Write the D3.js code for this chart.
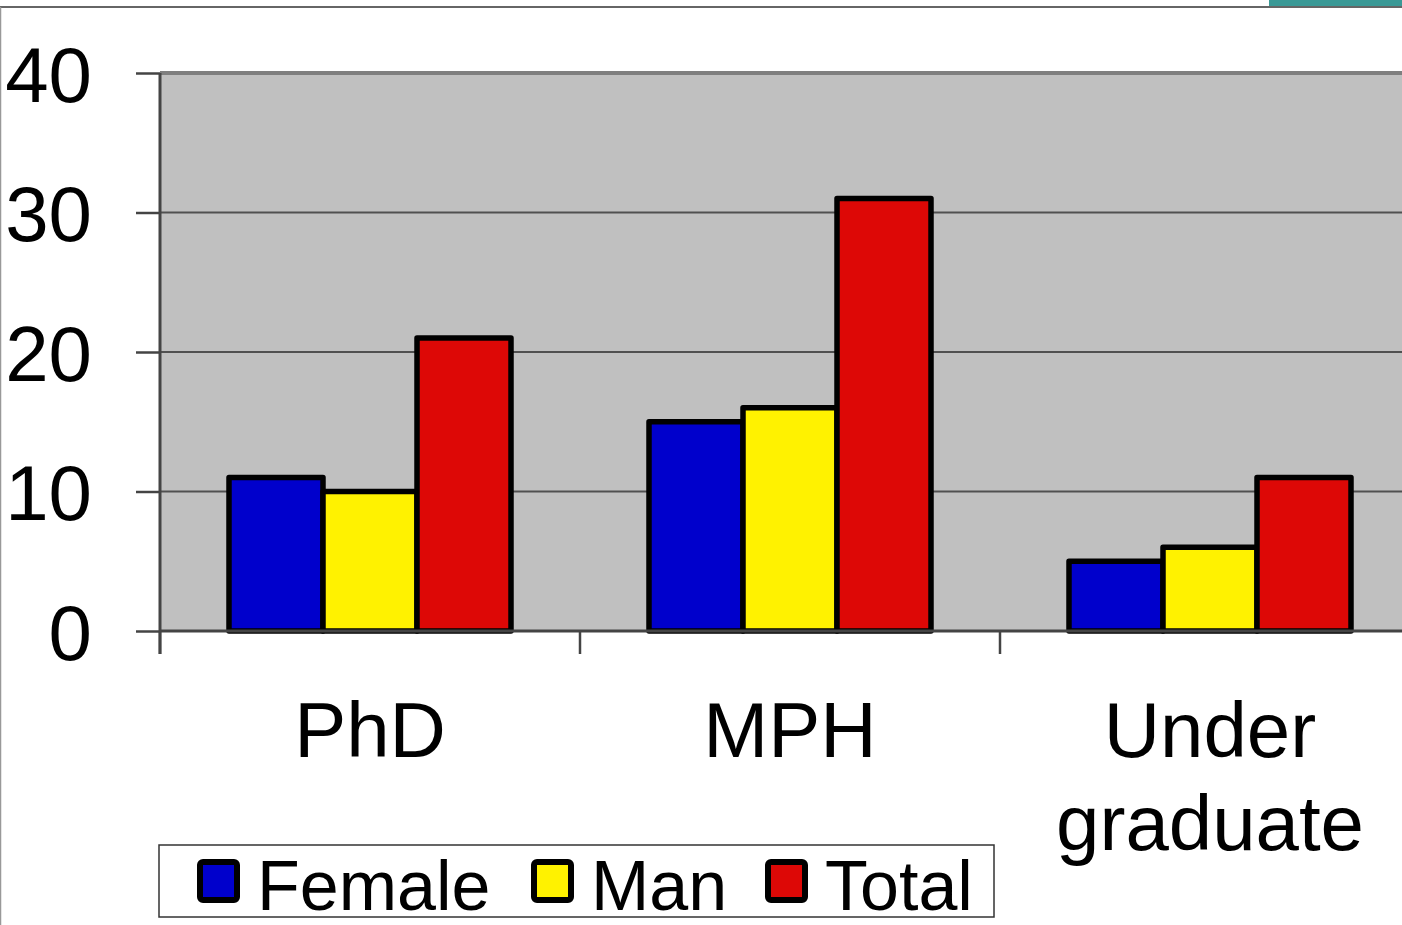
<!DOCTYPE html>
<html>
<head>
<meta charset="utf-8">
<script src="https://cdn.jsdelivr.net/npm/d3@7"></script>
<style>
  html, body { margin: 0; padding: 0; background: #fff; }
  svg { display: block; font-family: "Liberation Sans", Arial, sans-serif; }
</style>
</head>
<body>
<svg id="chart" width="1402" height="925"></svg>
<script>
// Enrolment by programme, split by gender
const categories = ["PhD", "MPH", "Under graduate"];
const categoryLines = [["PhD"], ["MPH"], ["Under", "graduate"]];
const seriesNames = ["Female", "Man", "Total"];
const female = [11, 15, 5];
const man = [10, 16, 6];
const total = [21, 31, 11];
const yTicks = [0, 10, 20, 30, 40];
const colors = ["#0000cc", "#fff200", "#dd0806"];

const seriesValues = [female, man, total];
const rows = categories.map((c, i) => ({
  category: c,
  values: seriesNames.map((s, j) => ({ series: s, value: seriesValues[j][i], color: colors[j] }))
}));

const svg = d3.select("#chart");
const W = 1402, H = 925;
const plot = { left: 160, right: 1420, top: 73, bottom: 631 };

// Slide frame: top rule, left rule and corner accent
svg.append("rect").attr("x", 1269).attr("y", 0).attr("width", 133).attr("height", 6).attr("fill", "#3a9996");
svg.append("line").attr("x1", 0).attr("x2", W).attr("y1", 7).attr("y2", 7)
  .attr("stroke", "#666").attr("stroke-width", 2);
svg.append("line").attr("x1", 0.5).attr("x2", 0.5).attr("y1", 7).attr("y2", H)
  .attr("stroke", "#999").attr("stroke-width", 1.5);

const y = d3.scaleLinear().domain([0, 40]).range([plot.bottom, plot.top]);
const x0 = d3.scaleBand().domain(categories).range([plot.left, plot.right]).padding(0);
const x1 = d3.scaleBand().domain(seriesNames).range([0, x0.bandwidth()])
  .paddingInner(0).paddingOuter(0.734);

// Plot background
svg.append("rect")
  .attr("x", plot.left).attr("y", plot.top)
  .attr("width", plot.right - plot.left).attr("height", plot.bottom - plot.top)
  .attr("fill", "#c0c0c0");

// Gridlines
svg.append("g").selectAll("line")
  .data(yTicks.filter(t => t > 0 && t < 40))
  .join("line")
  .attr("x1", plot.left).attr("x2", plot.right)
  .attr("y1", d => y(d)).attr("y2", d => y(d))
  .attr("stroke", "#505050").attr("stroke-width", 2);

// Top edge of plot area
svg.append("line")
  .attr("x1", plot.left).attr("x2", plot.right)
  .attr("y1", y(40)).attr("y2", y(40))
  .attr("stroke", "#7f7f7f").attr("stroke-width", 4);

// Bars
const groups = svg.append("g").selectAll("g")
  .data(rows)
  .join("g")
  .attr("transform", d => `translate(${x0(d.category)},0)`);

groups.selectAll("rect")
  .data(d => d.values)
  .join("rect")
  .attr("x", d => x1(d.series))
  .attr("y", d => y(d.value))
  .attr("width", x1.bandwidth())
  .attr("height", d => y(0) - y(d.value))
  .attr("fill", d => d.color)
  .attr("stroke", "#000")
  .attr("stroke-width", 5.5)
  .attr("stroke-linejoin", "round");

// Y axis
const yAxis = svg.append("g")
  .attr("transform", `translate(${plot.left},0)`)
  .call(d3.axisLeft(y).tickValues(yTicks).tickSize(24).tickPadding(44));
yAxis.select(".domain").attr("stroke", "#444").attr("stroke-width", 3)
  .attr("d", `M0,${plot.top}V${plot.bottom + 23}`);
yAxis.selectAll(".tick line").attr("stroke", "#444").attr("stroke-width", 2.5);
yAxis.selectAll(".tick text")
  .attr("fill", "#000")
  .attr("font-size", 78)
  .attr("font-family", "Liberation Sans, Arial, sans-serif")
  .attr("dy", "0.36em");

// X axis line and category separators
svg.append("line")
  .attr("x1", plot.left).attr("x2", plot.right)
  .attr("y1", y(0)).attr("y2", y(0))
  .attr("stroke", "#444").attr("stroke-width", 3);
svg.append("g").selectAll("line")
  .data(categories)
  .join("line")
  .attr("x1", d => x0(d)).attr("x2", d => x0(d))
  .attr("y1", y(0)).attr("y2", y(0) + 23)
  .attr("stroke", "#444").attr("stroke-width", 2.5);

// Category labels
const catLabels = svg.append("g").selectAll("text")
  .data(categories.map((c, i) => ({ c, lines: categoryLines[i] })))
  .join("text")
  .attr("x", d => x0(d.c) + x0.bandwidth() / 2)
  .attr("y", 757)
  .attr("text-anchor", "middle")
  .attr("font-size", 78)
  .attr("fill", "#000");
catLabels.selectAll("tspan")
  .data(d => d.lines.map((l, k) => ({ l, k, x: x0(d.c) + x0.bandwidth() / 2 })))
  .join("tspan")
  .attr("x", d => d.x)
  .attr("dy", d => d.k === 0 ? 0 : 93)
  .text(d => d.l);

// Legend
const legend = svg.append("g");
legend.append("rect")
  .attr("x", 159).attr("y", 845).attr("width", 835).attr("height", 72)
  .attr("fill", "#fff").attr("stroke", "#333").attr("stroke-width", 1.5);
const legendX = [199, 533, 767];
const items = legend.selectAll("g.item")
  .data(seriesNames.map((s, i) => ({ s, color: colors[i], x: legendX[i] })))
  .join("g").attr("class", "item");
items.append("rect")
  .attr("x", d => d.x + 1).attr("y", 862)
  .attr("width", 37).attr("height", 38)
  .attr("rx", 3)
  .attr("fill", d => d.color)
  .attr("stroke", "#000").attr("stroke-width", 6);
items.append("text")
  .attr("x", d => d.x + 58).attr("y", 910)
  .attr("font-size", 70)
  .attr("fill", "#000")
  .text(d => d.s);
</script>
</body>
</html>
